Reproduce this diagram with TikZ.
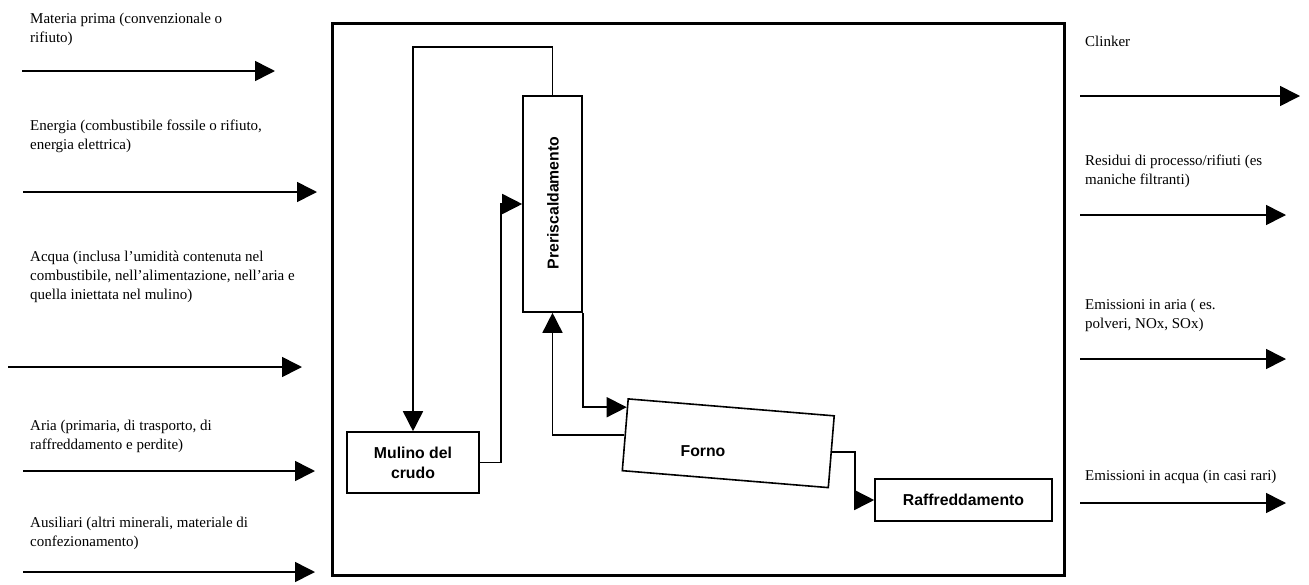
\documentclass[tikz,border=0pt]{standalone}
\usepackage{fontspec}
\setmainfont{Liberation Serif}
\setsansfont{Liberation Sans}
\usetikzlibrary{arrows.meta,calc}
\begin{document}
\begin{tikzpicture}[x=1pt,y=-1pt,
  lbl/.style={anchor=north west, inner sep=0pt, align=left, font=\fontsize{15}{19}\selectfont},
  boxtxt/.style={inner sep=0pt, align=center, font=\sffamily\bfseries\fontsize{15.8}{20}\selectfont},
  box/.style={draw, line width=1.6pt, inner sep=0pt, boxtxt},
  con/.style={line width=1.6pt},
  arr/.style={line width=1.6pt, -{Triangle[length=20pt,width=20pt]}},
]
\useasboundingbox (0,0) rectangle (1309,584);

% main frame
\node[draw, line width=3pt, minimum width=732pt, minimum height=552pt, inner sep=0pt] (main) at (698,299) {};

% process blocks
\node[box, minimum width=132pt, minimum height=61pt] (mulino) at (413,462.5) {Mulino del\\crudo};
\node[box, minimum width=59pt, minimum height=216pt] (pre) at (552.5,204) {};
\node[boxtxt, rotate=90] (pretxt) at (553,203) {Preriscaldamento};
\node[draw, line width=1.6pt, rotate=-4.7, minimum width=206.7pt, minimum height=72pt, inner sep=0pt] (forno) at (728.25,443.25) {};
\node[boxtxt] (fornotxt) at (703,451) {Forno};
\node[box, minimum width=177pt, minimum height=42pt] (raff) at (963.5,500) {Raffreddamento};

% internal connectors
\draw[arr] (pre.north) -- ++(0,-48) -| (mulino.north);
\draw[arr] (mulino.east) -| ([xshift=-21pt]pre.west) -- (pre.west);
\draw[arr] (forno.west) -| (pre.south);
\draw[arr] (pre.south east) |- ($(forno.west)!0.75!(forno.north west)$);
\draw[arr] (forno.east) -- ++(23,0) |- (raff.west);

% inputs
\node[lbl] (lmat) at (30,13) {Materia prima (convenzionale o\\rifiuto)};
\node[lbl] (lene) at (30,120) {Energia (combustibile fossile o rifiuto,\\energia elettrica)};
\node[lbl] (lacq) at (30,251) {Acqua (inclusa l’umidità contenuta nel\\combustibile, nell’alimentazione, nell’aria e\\quella iniettata nel mulino)};
\node[lbl] (laria) at (30,420) {Aria (primaria, di trasporto, di\\raffreddamento e perdite)};
\node[lbl] (laus) at (30,517) {Ausiliari (altri minerali, materiale di\\confezionamento)};

\coordinate (a1s) at (22,71);  \coordinate (a1e) at (275,71);
\coordinate (a2s) at (23,192); \coordinate (a2e) at (317,192);
\coordinate (a3s) at (8,367);  \coordinate (a3e) at (302,367);
\coordinate (a4s) at (23,471); \coordinate (a4e) at (315,471);
\coordinate (a5s) at (23,572); \coordinate (a5e) at (315,572);
\foreach \i in {1,...,5} {\draw[arr] (a\i s) -- (a\i e);}

% outputs
\node[lbl] (rcli) at (1085,36) {Clinker};
\node[lbl] (rres) at (1085,155) {Residui di processo/rifiuti (es\\maniche filtranti)};
\node[lbl] (rear) at (1085,299) {Emissioni in aria ( es.\\polveri, NOx, SOx)};
\node[lbl] (reac) at (1085,470) {Emissioni in acqua (in casi rari)};

\coordinate (b1s) at (1080,96);  \coordinate (b1e) at (1300,96);
\coordinate (b2s) at (1080,215); \coordinate (b2e) at (1286,215);
\coordinate (b3s) at (1080,359); \coordinate (b3e) at (1286,359);
\coordinate (b4s) at (1080,503); \coordinate (b4e) at (1286,503);
\foreach \i in {1,...,4} {\draw[arr] (b\i s) -- (b\i e);}
\end{tikzpicture}
\end{document}
